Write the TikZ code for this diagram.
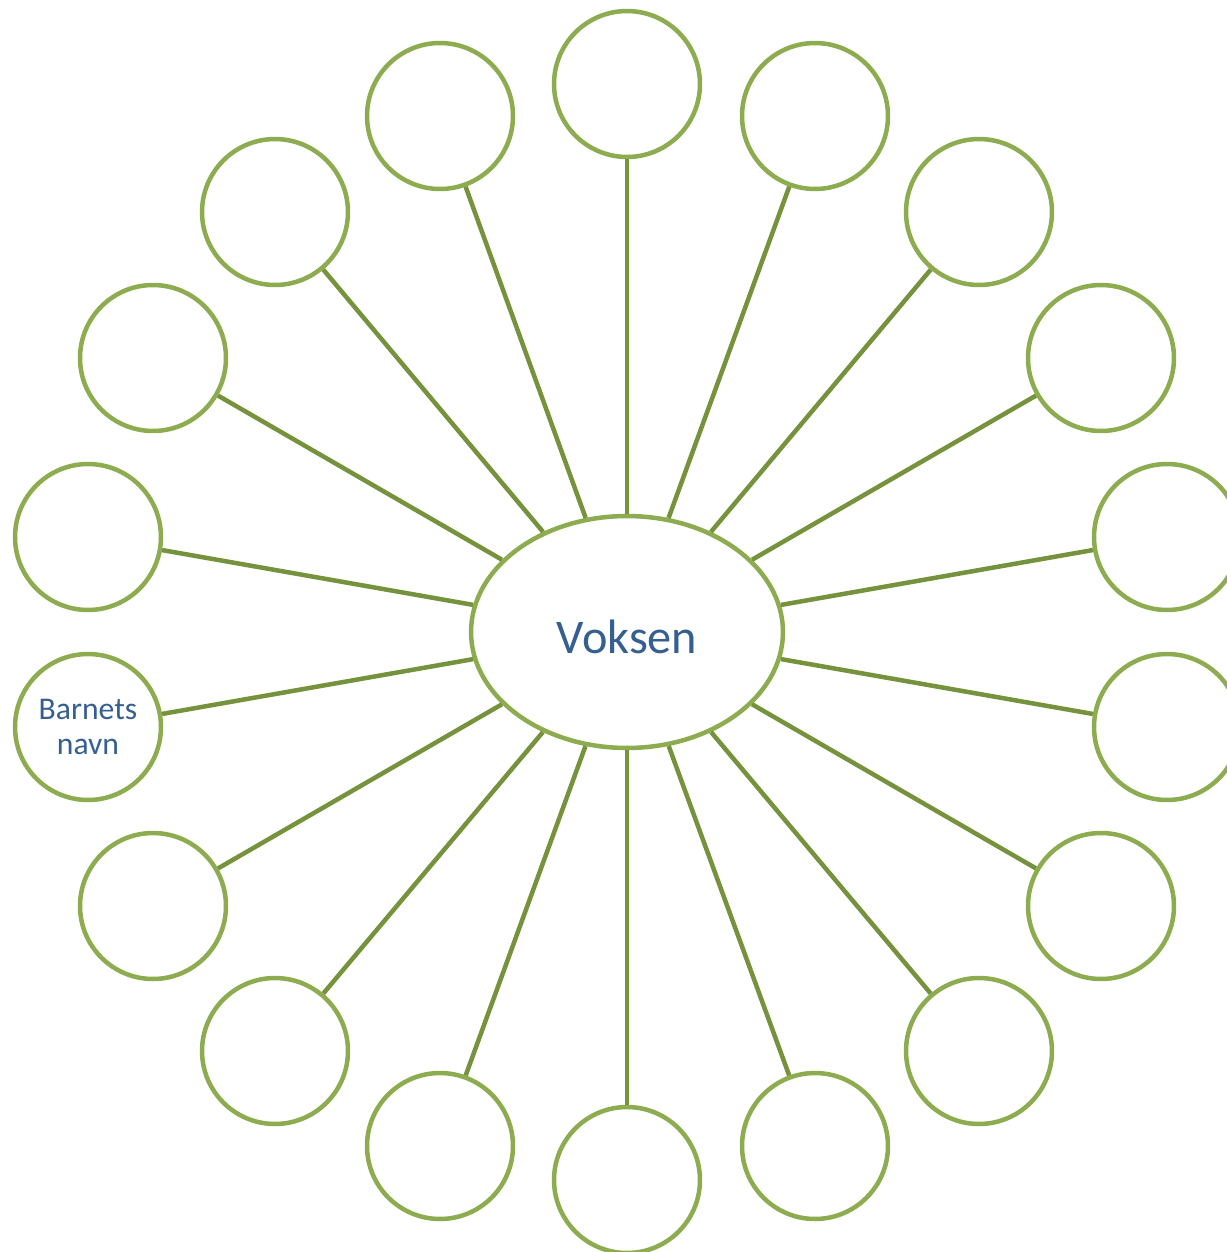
\documentclass[tikz,border=0pt]{standalone}
\usepackage{fontspec}
\setmainfont{Carlito}
\usetikzlibrary{shapes.geometric}
\definecolor{ringgreen}{HTML}{8DAC4F}
\definecolor{linegreen}{HTML}{76923C}
\definecolor{textblue}{HTML}{365F91}
\begin{document}
\begin{tikzpicture}[x=0.02cm,y=-0.02cm,
  ring/.style={circle,draw=ringgreen,line width=0.09cm,fill=white,minimum size=2.92cm,inner sep=0pt,align=center,text=textblue,font=\fontsize{18}{20}\selectfont},
  hub/.style={ellipse,draw=ringgreen,line width=0.09cm,fill=white,minimum width=6.24cm,minimum height=4.64cm,inner sep=0pt,text=textblue,font=\fontsize{27.5}{30}\selectfont},
  spoke/.style={draw=linegreen,line width=0.09cm}]
\clip (0,0) rectangle (1227,1252);
\useasboundingbox (0,0) rectangle (1227,1252);
\node[hub] (c) at (627,632) {\raisebox{-0.1cm}[\height][\depth]{Voksen}};
\node[ring] (n1) at (627,84) {};
\node[ring] (n2) at (815,116) {};
\node[ring] (n3) at (979,212) {};
\node[ring] (n4) at (1101,358) {};
\node[ring] (n5) at (1167,537) {};
\node[ring] (n6) at (1167,727) {};
\node[ring] (n7) at (1101,906) {};
\node[ring] (n8) at (979,1051) {};
\node[ring] (n9) at (815,1146) {};
\node[ring] (n10) at (627,1180) {};
\node[ring] (n11) at (440,1146) {};
\node[ring] (n12) at (275,1051) {};
\node[ring] (n13) at (153,906) {};
\node[ring] (n14) at (88,727) {Barnets\\navn};
\node[ring] (n15) at (88,537) {};
\node[ring] (n16) at (153,358) {};
\node[ring] (n17) at (275,212) {};
\node[ring] (n18) at (440,116) {};
\foreach \i in {1,...,18} {\draw[spoke] (c) -- (n\i);}
\end{tikzpicture}
\end{document}
